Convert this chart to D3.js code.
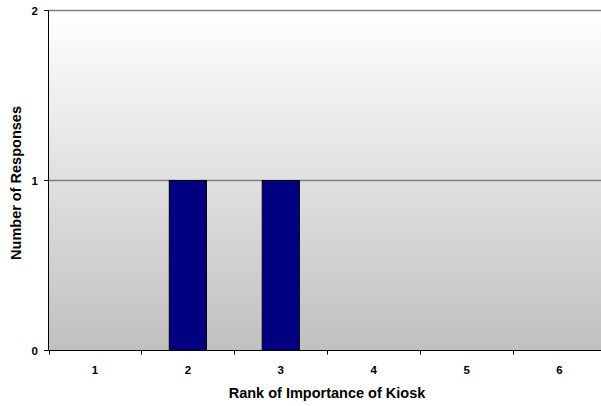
<!DOCTYPE html>
<html>
<head>
<meta charset="utf-8">
<script src="https://cdn.jsdelivr.net/npm/d3@7/dist/d3.min.js"></script>
<style>
  body { margin: 0; background: #fff; }
  text { font-family: Arial, "Liberation Sans", sans-serif; font-weight: bold; fill: #000; }
</style>
</head>
<body>
<div id="chart"></div>
<script>
// data
const ranks = ["1", "2", "3", "4", "5", "6"];
const responses = [0, 1, 1, 0, 0, 0];
const yTicks = [0, 1, 2];

const svg = d3.select("#chart").append("svg").attr("width", 601).attr("height", 406);

// ----- scales -------
const x = d3.scaleBand().domain(ranks).range([48.5, 606]).paddingInner(0.6).paddingOuter(0.3);
const y = d3.scaleLinear().domain([0, 2]).range([350.5, 10.5]);

// ----- background gradient -------
const grad = svg.append("defs").append("linearGradient")
  .attr("id", "bg").attr("x1", 0).attr("y1", 0).attr("x2", 0).attr("y2", 1);
grad.append("stop").attr("offset", "0%").attr("stop-color", "#ffffff");
grad.append("stop").attr("offset", "100%").attr("stop-color", "#c0c0c0");

svg.append("rect")
  .attr("x", 48.5)
  .attr("y", y(2))
  .attr("width", 606 - 48.5)
  .attr("height", y(0) - y(2))
  .attr("fill", "url(#bg)");

// ----- gridlines -------
svg.selectAll(".grid")
  .data(yTicks.filter(d => d > 0))
  .join("line")
  .attr("x1", 48.5).attr("x2", 606)
  .attr("y1", d => y(d)).attr("y2", d => y(d))
  .attr("stroke", "#808080")
  .attr("stroke-width", 1.5);

// ----- bars -------
svg.selectAll(".bar")
  .data(ranks.map((r, i) => ({ rank: r, value: responses[i] })).filter(d => d.value > 0))
  .join("rect")
  .attr("x", d => x(d.rank))
  .attr("y", d => y(d.value))
  .attr("width", x.bandwidth())
  .attr("height", d => y(0) - y(d.value))
  .attr("fill", "#000080")
  .attr("stroke", "#000")
  .attr("stroke-width", 1);

// ----- axes -------
const step = x.step();
const xBoundaries = d3.range(ranks.length + 1).map(i => 48.5 + i * step);

svg.append("line")
  .attr("x1", 48.5).attr("x2", 606)
  .attr("y1", y(0)).attr("y2", y(0))
  .attr("stroke", "#000");

svg.selectAll(".xtick")
  .data(xBoundaries)
  .join("line")
  .attr("x1", d => Math.round(d) + 0.5).attr("x2", d => Math.round(d) + 0.5)
  .attr("y1", y(0)).attr("y2", y(0) + 4)
  .attr("stroke", "#000");

svg.append("line")
  .attr("x1", 48.5).attr("x2", 48.5)
  .attr("y1", y(2)).attr("y2", y(0))
  .attr("stroke", "#000");

svg.selectAll(".ytick")
  .data(yTicks)
  .join("line")
  .attr("x1", 44).attr("x2", 48.5)
  .attr("y1", d => y(d)).attr("y2", d => y(d))
  .attr("stroke", "#000");

svg.selectAll(".ylabel")
  .data(yTicks)
  .join("text")
  .attr("x", 38)
  .attr("y", d => y(d))
  .attr("dy", "0.35em")
  .attr("text-anchor", "end")
  .style("font-size", "11.5px")
  .text(d => d);

svg.selectAll(".xlabel")
  .data(ranks)
  .join("text")
  .attr("x", d => x(d) + x.bandwidth() / 2)
  .attr("y", 370)
  .attr("dy", "0.35em")
  .attr("text-anchor", "middle")
  .style("font-size", "11.5px")
  .text(d => d);

// ----- titles -------
svg.append("text")
  .attr("x", 327)
  .attr("y", 393)
  .attr("dy", "0.35em")
  .attr("text-anchor", "middle")
  .style("font-size", "14.5px")
  .text("Rank of Importance of Kiosk");

svg.append("text")
  .attr("transform", "translate(16,183) rotate(-90)")
  .attr("dy", "0.35em")
  .attr("text-anchor", "middle")
  .style("font-size", "14.5px")
  .text("Number of Responses");
</script>
</body>
</html>
